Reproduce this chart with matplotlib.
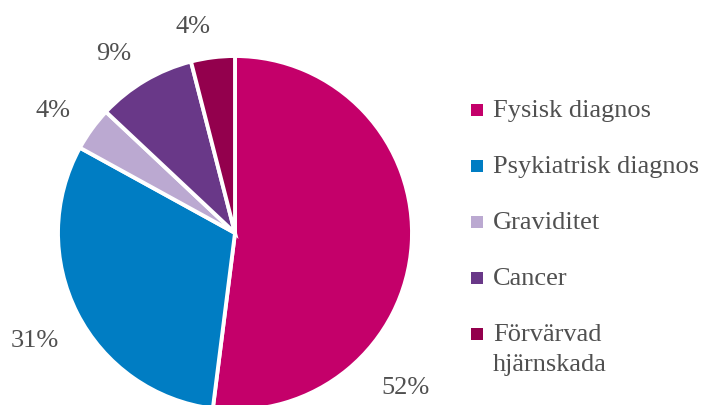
import matplotlib.pyplot as plt
from matplotlib.patches import Rectangle

plt.rcParams["font.family"] = ["Liberation Serif", "DejaVu Serif"]

# Daten
kategorien = ["Fysisk diagnos", "Psykiatrisk diagnos", "Graviditet",
              "Cancer", "Förvärvad\nhjärnskada"]
andel = [52, 31, 4, 9, 4]
farben = ["#C4006A", "#007DC3", "#BBA9D1", "#693888", "#93004D"]

TEXT = "#505050"
W, H = 704, 405

fig = plt.figure(figsize=(W / 100, H / 100), dpi=100)

# Tortenmitte (235, 233) px, Radius 177 px
cx, cy, r = 235, 233, 177
ax = fig.add_axes([(cx - r) / W, (H - cy - r) / H, 2 * r / W, 2 * r / H])
ax.pie(andel, colors=farben, startangle=90, counterclock=False,
       wedgeprops=dict(edgecolor="white", linewidth=2.8))
ax.set_xlim(-1, 1)
ax.set_ylim(-1, 1)
ax.set_aspect("equal")
ax.axis("off")

# Prozentlabels (Position in Radius-Einheiten)
label_pos = [(0.966, -0.876), (-1.13, -0.61), (-1.028, 0.689),
             (-0.684, 1.011), (-0.237, 1.164)]
for (lx, ly), val in zip(label_pos, andel):
    ax.text(lx, ly, f"{val}%", ha="center", va="center",
            fontsize=19, color=TEXT, clip_on=False)

# Legende rechts
zeilen_y = [110, 166, 222, 278, 334]
for y, lab, c in zip(zeilen_y, kategorien, farben):
    fig.patches.append(Rectangle((471 / W, (H - y - 6) / H), 12 / W, 12 / H,
                                 transform=fig.transFigure, facecolor=c,
                                 edgecolor="none"))
    fig.text(493 / W, (H - y + 10) / H, lab, ha="left", va="top",
             fontsize=19, color=TEXT, linespacing=1.45)

fig.savefig("out.png", dpi=100)
